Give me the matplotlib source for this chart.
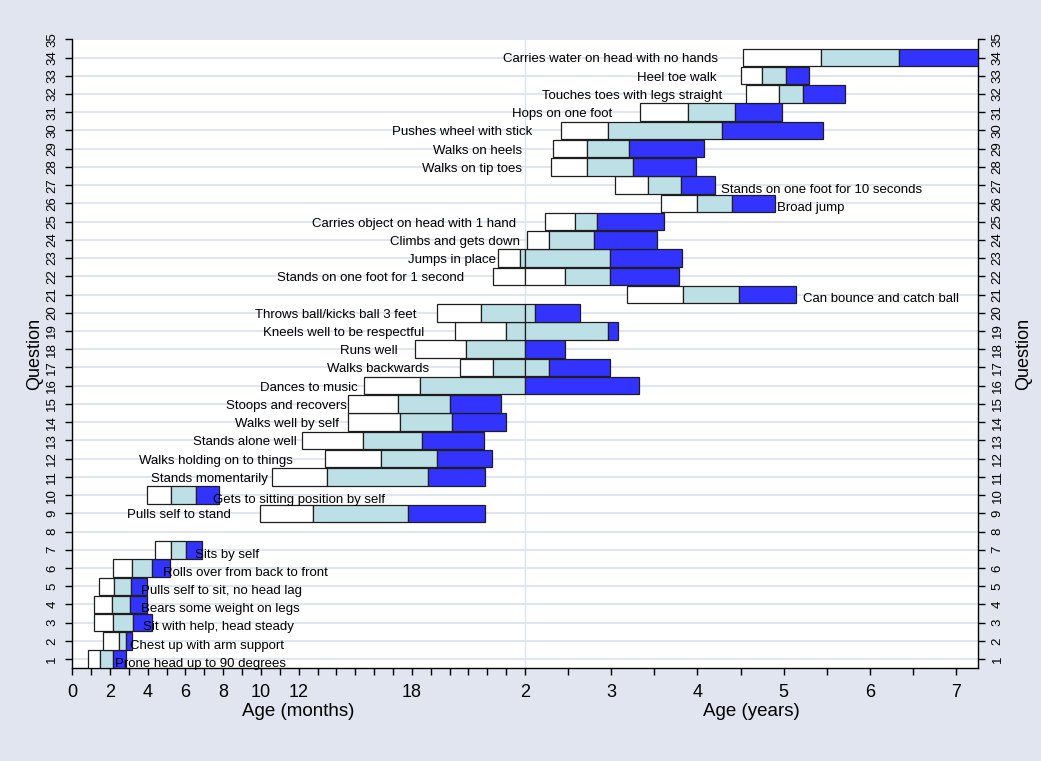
import numpy as np
import matplotlib
matplotlib.use("Agg")
import matplotlib.pyplot as plt

plt.rcParams["font.family"] = ["Liberation Sans", "DejaVu Sans"]

# Milestone items, one per row of the chart
question = [1, 2, 3, 4, 5, 6, 7, 9, 10, 11, 12, 13, 14, 15, 16, 17, 18, 19, 20,
            21, 22, 23, 24, 25, 26, 27, 28, 29, 30, 31, 32, 33, 34]
items = [
    "Prone head up to 90 degrees",
    "Chest up with arm support",
    "Sit with help, head steady",
    "Bears some weight on legs",
    "Pulls self to sit, no head lag",
    "Rolls over from back to front",
    "Sits by self",
    "Pulls self to stand",
    "Gets to sitting position by self",
    "Stands momentarily",
    "Walks holding on to things",
    "Stands alone well",
    "Walks well by self",
    "Stoops and recovers",
    "Dances to music",
    "Walks backwards",
    "Runs well",
    "Kneels well to be respectful",
    "Throws ball/kicks ball 3 feet",
    "Can bounce and catch ball",
    "Stands on one foot for 1 second",
    "Jumps in place",
    "Climbs and gets down",
    "Carries object on head with 1 hand",
    "Broad jump",
    "Stands on one foot for 10 seconds",
    "Walks on tip toes",
    "Walks on heels",
    "Pushes wheel with stick",
    "Hops on one foot",
    "Touches toes with legs straight",
    "Heel toe walk",
    "Carries water on head with no hands",
]

# Age in months by which 25%, 50%, 75% and 90% of children pass each item
p25 = [0.85, 1.64, 1.16, 1.16, 1.40, 2.17, 4.38, 9.93, 3.95, 10.57, 13.38, 12.16,
       14.59, 14.59, 15.44, 20.54, 18.19, 20.30, 19.34, 38.25, 22.32, 22.59, 24.32,
       26.83, 42.88, 36.47, 27.63, 27.84, 29.01, 40.06, 54.80, 54.01, 54.40]
p50 = [1.47, 2.49, 2.17, 2.09, 2.22, 3.18, 5.21, 12.74, 5.21, 13.48, 16.34, 15.39,
       17.35, 17.29, 18.44, 22.29, 20.88, 22.99, 21.67, 46.04, 29.61, 23.75, 27.38,
       31.00, 47.95, 41.06, 32.58, 32.58, 35.55, 46.64, 59.40, 57.03, 65.21]
p75 = [2.15, 2.84, 3.20, 3.05, 3.11, 4.20, 6.02, 17.82, 6.54, 18.88, 19.31, 18.56,
       20.15, 20.05, 24.00, 27.38, 24.00, 35.50, 25.43, 53.83, 35.88, 35.88, 33.65,
       34.02, 52.87, 45.72, 38.98, 38.43, 51.37, 53.23, 62.70, 60.33, 76.10]
p90 = [2.83, 3.18, 4.20, 3.94, 3.94, 5.17, 6.90, 21.90, 7.77, 21.90, 22.27, 21.85,
       23.01, 22.75, 39.90, 35.83, 29.57, 36.95, 31.60, 61.77, 45.48, 45.90, 42.42,
       43.39, 58.73, 50.50, 47.81, 48.96, 65.53, 59.73, 68.55, 63.48, 87.00]

# Where each item's text sits (months) and on which side of that point
label_x = [2.27, 3.05, 3.73, 3.62, 3.62, 4.82, 6.53, 8.40, 7.45, 10.36, 11.68, 11.90,
           14.12, 14.54, 15.12, 18.94, 17.24, 18.67, 18.24, 62.70, 20.79, 22.48, 23.75,
           23.53, 59.00, 51.30, 23.84, 23.87, 24.97, 36.10, 51.50, 50.67, 50.80]
label_side = ["R", "R", "R", "R", "R", "R", "R", "L", "R", "L", "L", "L",
              "L", "L", "L", "L", "L", "L", "L", "R", "L", "L", "L",
              "L", "R", "R", "L", "L", "L", "L", "L", "L", "L"]

month_ticks = [0, 2, 4, 6, 8, 10, 12, 18]
year_ticks = [2, 3, 4, 5, 6, 7]

BG = "#e1e5f0"
GRID = "#dde3ee"
WHITE = "#ffffff"
LBLUE = "#bde0e7"
BLUE = "#3333ff"
EDGE = "#1e1e1e"

# Months run at full width up to 24; beyond that the axis is compressed
K = 2.625


def fwd(m):
    m = np.asarray(m, dtype=float)
    return np.where(m <= 24, m, 24 + (m - 24) / K)


def inv(u):
    u = np.asarray(u, dtype=float)
    return np.where(u <= 24, u, 24 + (u - 24) * K)


fig = plt.figure(figsize=(10.41, 7.61), dpi=100, facecolor=BG)
ax = fig.add_axes([0.06945, 0.1218, 0.86975, 0.8266])
ax.set_facecolor("white")
ax.set_xscale("function", functions=(fwd, inv))
ax.set_xlim(0, 87)
ax.set_ylim(0.5, 35)

# Horizontal grid and the divider between the months and years parts
ax.set_yticks(range(1, 36))
ax.grid(axis="y", color=GRID, lw=1.3, zorder=0)
ax.axvline(24, color=GRID, lw=1.0, zorder=1)
ax.set_axisbelow(True)

segments = [(p25, p50, WHITE), (p50, p75, LBLUE), (p75, p90, BLUE)]
for i, q in enumerate(question):
    for lo_arr, hi_arr, col in segments:
        lo, hi = lo_arr[i], hi_arr[i]
        pieces = [(lo, 24), (24, hi)] if lo < 24 < hi else [(lo, hi)]
        for a, b in pieces:
            ax.barh(q, b - a, left=a, height=0.96, color=col, edgecolor=EDGE,
                    linewidth=0.9, zorder=3)

for i, q in enumerate(question):
    if label_side[i] == "R":
        ax.annotate(items[i], xy=(label_x[i], q), xytext=(0, -3.4),
                    textcoords="offset points", ha="left", va="center",
                    fontsize=9.5, zorder=5)
    else:
        ax.annotate(items[i], xy=(label_x[i], q), xytext=(0, -1.4),
                    textcoords="offset points", ha="right", va="center",
                    fontsize=9.5, zorder=5)

# X axis: months up to 18, then whole years
major = month_ticks + [12 * y for y in year_ticks]
major_labels = [str(m) for m in month_ticks] + [str(y) for y in year_ticks]
ax.set_xticks(major)
ax.set_xticklabels(major_labels)
minor = [m for m in range(1, 24) if m not in month_ticks] + [30, 42, 54, 66, 78]
ax.set_xticks(minor, minor=True)
ax.tick_params(axis="x", which="both", direction="out", length=5, width=1,
               colors="black", labelsize=13, pad=6)

ax.tick_params(axis="y", which="both", left=True, right=True, labelleft=True,
               labelright=True, direction="out", length=5, width=1, labelsize=9.5,
               pad=5)
for lab in ax.get_yticklabels() + ax.yaxis.get_ticklabels(which="major"):
    lab.set_rotation(90)
    lab.set_va("center")
for t in ax.yaxis.get_major_ticks():
    t.label1.set_rotation(90)
    t.label1.set_va("center")
    t.label2.set_rotation(90)
    t.label2.set_va("center")

for side in ("left", "bottom", "right"):
    ax.spines[side].set_color("black")
    ax.spines[side].set_linewidth(1.0)
ax.spines["top"].set_visible(False)

# Axis titles
ax.annotate("Age (months)", xy=(12, 0), xycoords=("data", "axes fraction"),
            xytext=(0, -31), textcoords="offset points", ha="center", va="center",
            fontsize=13.5)
ax.annotate("Age (years)", xy=(55.5, 0), xycoords=("data", "axes fraction"),
            xytext=(0, -31), textcoords="offset points", ha="center", va="center",
            fontsize=13.5)
fig.text(35 / 1041, 1 - 354 / 761, "Question", rotation=90, ha="center",
         va="center", fontsize=13)
fig.text(1024 / 1041, 1 - 354 / 761, "Question", rotation=90, ha="center",
         va="center", fontsize=13)

fig.savefig("out.png", dpi=100, facecolor=BG)
